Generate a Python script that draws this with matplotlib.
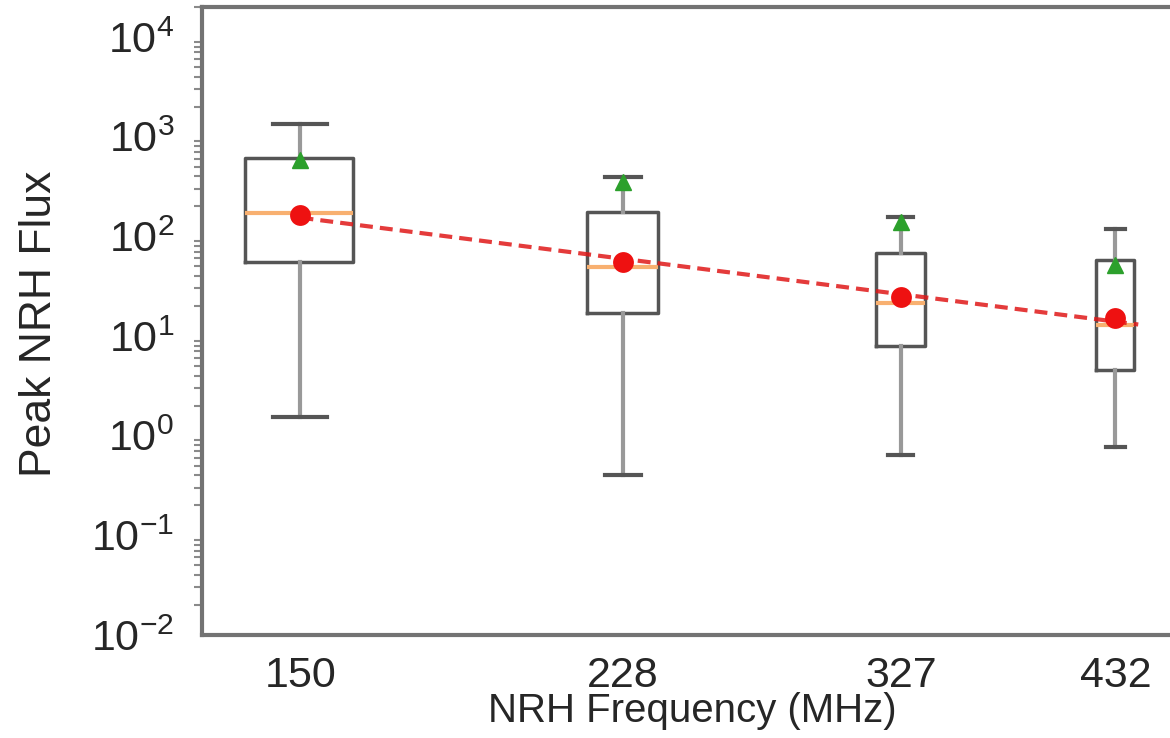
import numpy as np
import matplotlib
matplotlib.use("Agg")
import matplotlib.pyplot as plt
from matplotlib.ticker import (FixedLocator, FixedFormatter, NullLocator, NullFormatter,
                               LogFormatterSciNotation)

plt.rcParams["font.family"] = ["Liberation Sans", "DejaVu Sans"]
plt.rcParams["mathtext.fontset"] = "custom"
plt.rcParams["mathtext.rm"] = "Liberation Sans"
plt.rcParams["mathtext.it"] = "Liberation Sans"
plt.rcParams["mathtext.bf"] = "Liberation Sans"

INK = "#262626"; SPINE = "#737373"; EDGE = "#555555"

# NRH frequencies (MHz) and per-frequency peak flux statistics
freqs   = [150, 228, 327, 432]
whislo  = [1.54, 0.40, 0.64, 0.77]
q1      = [55.0, 16.9, 8.0, 4.55]
med     = [171.0, 49.4, 21.2, 12.9]
q3      = [608.0, 176.0, 67.3, 57.7]
whishi  = [1334.0, 395.0, 155.0, 118.0]
means   = [580.0, 352.0, 138.0, 51.4]
# typical flux used for the power-law fit
typical = [163.0, 55.5, 24.7, 15.0]
fit_range = [150, 445]
decades = [-2, -1, 0, 1, 2, 3, 4]

stats = [dict(whislo=a, q1=b, med=c, q3=d, whishi=e, mean=m, fliers=[])
         for a, b, c, d, e, m in zip(whislo, q1, med, q3, whishi, means)]

fig = plt.figure(figsize=(11.7, 7.38), dpi=100)
ax = fig.add_axes([202/1170, 1 - 635/738, 980/1170, 628/738])

ax.bxp(stats, positions=freqs, widths=21, showmeans=True, showfliers=False,
       boxprops=dict(color=EDGE, linewidth=2.5),
       whiskerprops=dict(color="#999999", linewidth=3),
       capprops=dict(color=EDGE, linewidth=3),
       medianprops=dict(color="#f8b070", linewidth=3),
       meanprops=dict(marker="^", markerfacecolor="#2ca02c", markeredgecolor="#2ca02c",
                      markersize=12),
       manage_ticks=False)

# power-law fit through the typical values
slope, icpt = np.polyfit(np.log10(freqs), np.log10(typical), 1)
xf = np.array(fit_range, dtype=float)
ax.plot(xf, 10**(icpt + slope*np.log10(xf)), color="#e01818", lw=3, alpha=0.85,
        linestyle=(0, (3.1, 1.7)), zorder=4)
ax.plot(freqs, typical, "o", color="#ee1111", ms=15, mec="none", zorder=5)

ax.set_xscale("log"); ax.set_yscale("log")
ax.set_xlim(132, 471)
ax.set_ylim(1e-2, 2e4)

ax.xaxis.set_major_locator(FixedLocator(freqs))
ax.xaxis.set_major_formatter(FixedFormatter([str(f) for f in freqs]))
ax.xaxis.set_minor_locator(NullLocator())
ax.xaxis.set_minor_formatter(NullFormatter())

# y ticks only inside the visible range
major_y = [10.0**d for d in decades]
minor_y = [s * 10.0**d for d in decades for s in range(2, 10) if s * 10.0**d <= 2e4]
ax.yaxis.set_major_locator(FixedLocator(major_y))
ax.yaxis.set_major_formatter(LogFormatterSciNotation())
ax.yaxis.set_minor_locator(FixedLocator(minor_y))
ax.yaxis.set_minor_formatter(NullFormatter())

ax.tick_params(axis="both", which="major", length=0, labelsize=31, labelcolor=INK)
ax.tick_params(axis="x", which="major", pad=15)
ax.tick_params(axis="y", which="major", pad=20)
ax.tick_params(axis="y", which="minor", length=6, width=1.5, color="#8a8a8a")

for s in ax.spines.values():
    s.set_color(SPINE); s.set_linewidth(3)

ax.set_xlabel("NRH Frequency (MHz)", fontsize=29, color=INK)
ax.set_ylabel("Peak NRH Flux", fontsize=32, color=INK)
ax.xaxis.set_label_coords(0.5, -0.091)
ax.yaxis.set_label_coords(-0.145, 0.495)

fig.savefig("out.png", dpi=100, facecolor="white")
